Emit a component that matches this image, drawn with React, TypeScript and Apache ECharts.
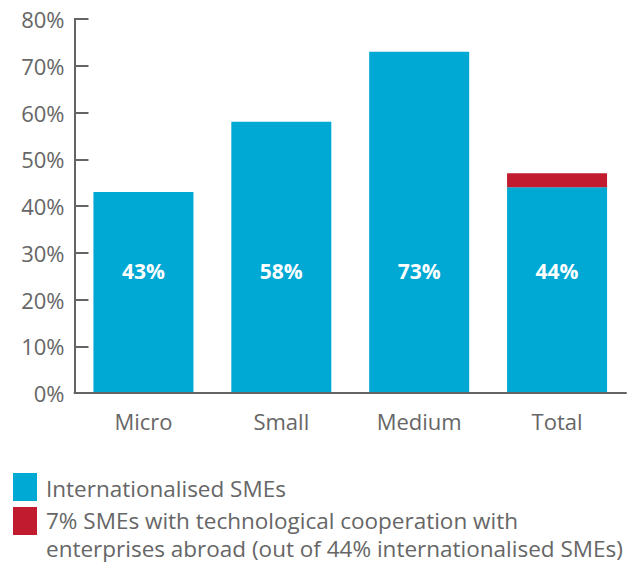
import React, { useEffect, useRef } from "react";
import * as echarts from "echarts";

const categories = ["Micro", "Small", "Medium", "Total"];
const internationalised = [43, 58, 73, 44];
const techCooperation = [null, null, null, 3];
const yTicks = [0, 10, 20, 30, 40, 50, 60, 70, 80];
const legendLabels = [
  "Internationalised SMEs",
  "7% SMEs with technological cooperation with\nenterprises abroad (out of 44% internationalised SMEs)",
];

const BLUE = "#00a9d4";
const RED = "#c01b2f";
const AXIS = "#646464";
const TEXT = "#666666";
const FONT = "'Open Sans', 'Noto Sans', sans-serif";

export default function App() {
  const ref = useRef<HTMLDivElement>(null);
  useEffect(() => {
    if (!ref.current) return;
    const chart = echarts.init(ref.current, null, { renderer: "svg" });
    chart.setOption({
      animation: false,
      grid: { left: 74.5, right: 2, top: 19, bottom: 169, containLabel: false },
      xAxis: {
        type: "category",
        data: categories,
        z: 5,
        axisLine: { lineStyle: { color: AXIS, width: 2 } },
        axisTick: { inside: true, length: 9, lineStyle: { color: AXIS, width: 2 } },
        axisLabel: { color: TEXT, fontSize: 22, fontFamily: FONT, margin: 17 },
      },
      yAxis: {
        type: "value",
        min: yTicks[0],
        max: yTicks[yTicks.length - 1],
        interval: 10,
        splitLine: { show: false },
        axisLine: { show: true, lineStyle: { color: AXIS, width: 2 } },
        axisTick: { show: true, inside: true, length: 14, lineStyle: { color: AXIS, width: 2 } },
        axisLabel: {
          color: TEXT,
          fontSize: 22,
          fontFamily: FONT,
          margin: 10,
          formatter: (v: number) => v + "%",
        },
      },
      series: [
        {
          name: legendLabels[0],
          type: "bar",
          stack: "s",
          data: internationalised,
          barWidth: 100,
          itemStyle: { color: BLUE },
          label: {
            show: true,
            position: "insideBottom",
            distance: 112,
            color: "#ffffff",
            fontWeight: "bold",
            fontSize: 21,
            fontFamily: FONT,
            formatter: (p: any) => p.value + "%",
          },
        },
        {
          name: legendLabels[1],
          type: "bar",
          stack: "s",
          data: techCooperation,
          barWidth: 100,
          itemStyle: { color: RED },
        },
      ],
      graphic: [
        { type: "rect", left: 13, top: 473, shape: { width: 24, height: 28 }, style: { fill: BLUE } },
        { type: "rect", left: 13, top: 507, shape: { width: 24, height: 28 }, style: { fill: RED } },
        {
          type: "text",
          left: 46,
          top: 474,
          style: { text: legendLabels[0], fill: TEXT, fontSize: 22.5, fontFamily: FONT, lineHeight: 28 },
        },
        {
          type: "text",
          left: 46,
          top: 506,
          style: { text: legendLabels[1], fill: TEXT, fontSize: 22.5, fontFamily: FONT, lineHeight: 28 },
        },
      ],
    });
    return () => chart.dispose();
  }, []);
  return <div ref={ref} style={{ width: 628, height: 562, position: "absolute", left: 0, top: 0 }} />;
}
